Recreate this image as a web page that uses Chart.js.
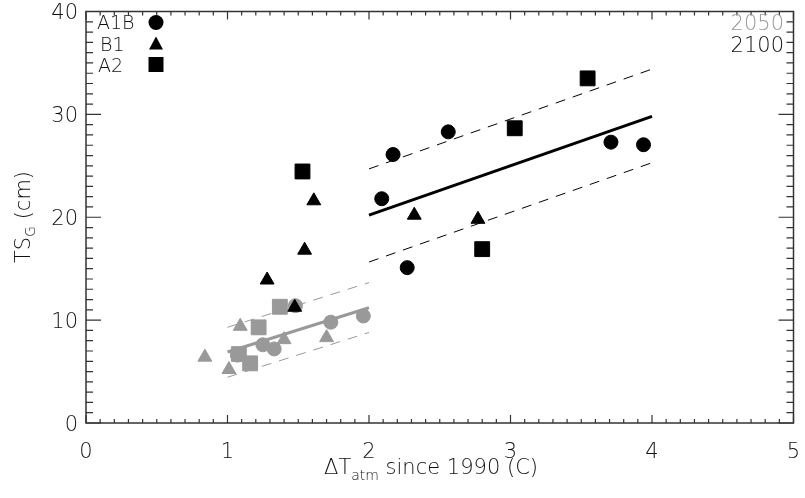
<!DOCTYPE html>
<html>
<head>
<meta charset="utf-8">
<script src="https://cdn.jsdelivr.net/npm/chart.js@4/dist/chart.umd.min.js"></script>
<style>
  html, body { margin: 0; padding: 0; background: #fff; }
  canvas { display: block; }
</style>
</head>
<body>
<canvas id="scatter-chart" width="805" height="498"></canvas>
<script>
// values: x = warming since 1990 (C), y = TS_G (cm)
// 2050 (gray)
const a1b2050X = [1.07, 1.25, 1.33, 1.48, 1.73, 1.96];
const a1b2050Y = [6.6, 7.6, 7.2, 11.4, 9.8, 10.4];
const b12050X = [0.84, 1.01, 1.09, 1.40, 1.70];
const b12050Y = [6.4, 5.2, 9.4, 8.1, 8.3];
const a22050X = [1.08, 1.16, 1.22, 1.37];
const a22050Y = [6.7, 5.8, 9.3, 11.3];
// 2100 (black)
const a1b2100X = [2.09, 2.17, 2.27, 2.56, 3.71, 3.94];
const a1b2100Y = [21.8, 26.1, 15.1, 28.3, 27.3, 27.05];
const b12100X = [1.28, 1.475, 1.545, 1.61, 2.32, 2.77];
const b12100Y = [13.9, 11.25, 16.8, 21.6, 20.2, 19.8];
const a22100X = [1.53, 2.80, 3.03, 3.545];
const a22100Y = [24.45, 16.9, 28.65, 33.5];
// fit lines (end points) and their dashed bands
const fit2050X = [1, 2];
const fit2050Y = [6.9, 11.2];
const hi2050Y = [9.3, 13.65];
const lo2050Y = [4.45, 8.8];
const fit2100X = [2, 4];
const fit2100Y = [20.2, 29.8];
const hi2100Y = [24.7, 34.4];
const lo2100Y = [15.65, 25.3];
// axes
const xTicks = [0, 1, 2, 3, 4, 5];
const yTicks = [0, 10, 20, 30, 40];

const GRAY = '#999999';
const BLACK = '#000000';
const FONT = "'DejaVu Sans', sans-serif";

function pts(xs, ys) {
	return xs.map((x, i) => ({ x: x, y: ys[i] }));
}

function pointSet(xs, ys, style, color, radius, order) {
	return {
		type: 'scatter',
		data: pts(xs, ys),
		pointStyle: style,
		pointRadius: radius,
		backgroundColor: color,
		borderColor: color,
		borderWidth: 1,
		order: order
	};
}

function lineSet(xs, ys, color, width, dash) {
	return {
		type: 'line',
		data: pts(xs, ys),
		borderColor: color,
		borderWidth: width,
		borderDash: dash,
		pointRadius: 0,
		fill: false,
		order: 5
	};
}

// box, inward ticks, tick labels, titles with subscripts, legend text
const frame = {
	id: 'frame',
	afterDraw(chart) {
		const ctx = chart.ctx;
		const a = chart.chartArea;
		const xs = chart.scales.x;
		const ys = chart.scales.y;
		ctx.save();
		ctx.strokeStyle = '#333';
		ctx.lineWidth = 1.5;
		ctx.strokeRect(a.left, a.top, a.right - a.left, a.bottom - a.top);
		ctx.lineWidth = 1.2;
		ctx.beginPath();
		for (let i = 0; i <= 50; i++) {
			const px = xs.getPixelForValue(i / 10);
			const len = i % 10 === 0 ? 8 : 4;
			ctx.moveTo(px, a.bottom); ctx.lineTo(px, a.bottom - len);
			ctx.moveTo(px, a.top); ctx.lineTo(px, a.top + len);
		}
		for (let i = 0; i <= 40; i++) {
			const py = ys.getPixelForValue(i);
			const len = i % 10 === 0 ? 15 : 7;
			ctx.moveTo(a.left, py); ctx.lineTo(a.left + len, py);
			ctx.moveTo(a.right, py); ctx.lineTo(a.right - len, py);
		}
		ctx.stroke();

		const big = '200 21px ' + FONT, small = '200 14px ' + FONT;
		const leg = '200 19px ' + FONT;
		ctx.fillStyle = '#111';
		ctx.textBaseline = 'alphabetic';
		ctx.font = big;

		// tick labels
		ctx.textAlign = 'center';
		xTicks.forEach(v => ctx.fillText(String(v), xs.getPixelForValue(v), 458));
		ctx.textAlign = 'right';
		yTicks.forEach(v => ctx.fillText(String(v), 78, ys.getPixelForValue(v) + 7.5));

		// x title: ΔT_atm since 1990 (C)
		const w1 = ctx.measureText('\u0394T').width;
		const w3 = ctx.measureText(' since 1990 (C)').width;
		ctx.font = small;
		const w2 = ctx.measureText('atm').width;
		let x0 = 431 - (w1 + w2 + w3) / 2;
		const by = 474;
		ctx.textAlign = 'left';
		ctx.font = big; ctx.fillText('\u0394T', x0, by);
		ctx.font = small; ctx.fillText('atm', x0 + w1, by + 6);
		ctx.font = big; ctx.fillText(' since 1990 (C)', x0 + w1 + w2, by);

		// y title: TS_G (cm)
		ctx.save();
		ctx.translate(30, 217);
		ctx.rotate(-Math.PI / 2);
		ctx.font = big;
		const v1 = ctx.measureText('TS').width;
		const v3 = ctx.measureText(' (cm)').width;
		ctx.font = small;
		const v2 = ctx.measureText('G').width;
		let y0 = -(v1 + v2 + v3) / 2;
		ctx.font = big; ctx.fillText('TS', y0, 0);
		ctx.font = small; ctx.fillText('G', y0 + v1, 5);
		ctx.font = big; ctx.fillText(' (cm)', y0 + v1 + v2, 0);
		ctx.restore();

		// scenario legend
		ctx.font = leg;
		ctx.textAlign = 'left';
		ctx.fillText('A1B', 97, 29);
		ctx.fillText('B1', 100, 51);
		ctx.fillText('A2', 98, 72);
		ctx.fillStyle = BLACK;
		ctx.beginPath();
		ctx.arc(156, 22.5, 7.5, 0, Math.PI * 2);
		ctx.fill();
		ctx.beginPath();
		ctx.moveTo(156, 36.5); ctx.lineTo(163, 49.5); ctx.lineTo(149, 49.5);
		ctx.closePath();
		ctx.fill();
		ctx.fillRect(148.5, 57, 15, 15);

		// year legend
		ctx.font = big;
		ctx.textAlign = 'right';
		ctx.fillStyle = GRAY;
		ctx.fillText('2050', 784, 30);
		ctx.fillStyle = '#111';
		ctx.fillText('2100', 784, 52);
		ctx.restore();
	}
};

new Chart(document.getElementById('scatter-chart'), {
	type: 'scatter',
	data: {
		datasets: [
			pointSet(a1b2100X, a1b2100Y, 'circle', BLACK, 7, 0),
			pointSet(b12100X, b12100Y, 'triangle', BLACK, 8, 0),
			pointSet(a22100X, a22100Y, 'rect', BLACK, 10.5, 0),
			pointSet(a1b2050X, a1b2050Y, 'circle', GRAY, 7, 1),
			pointSet(b12050X, b12050Y, 'triangle', GRAY, 8, 1),
			pointSet(a22050X, a22050Y, 'rect', GRAY, 10.5, 1),
			lineSet(fit2050X, fit2050Y, GRAY, 3, []),
			lineSet(fit2050X, hi2050Y, GRAY, 1, [10, 8]),
			lineSet(fit2050X, lo2050Y, GRAY, 1, [10, 8]),
			lineSet(fit2100X, fit2100Y, BLACK, 3, []),
			lineSet(fit2100X, hi2100Y, BLACK, 1, [10, 8]),
			lineSet(fit2100X, lo2100Y, BLACK, 1, [10, 8])
		]
	},
	options: {
		responsive: false,
		animation: false,
		devicePixelRatio: 1,
		layout: { padding: { top: 10, right: 6, left: 0, bottom: 0 } },
		plugins: {
			legend: { display: false },
			tooltip: { enabled: false }
		},
		scales: {
			x: {
				type: 'linear',
				min: 0,
				max: 5,
				afterFit: s => { s.height = 75; },
				grid: { display: false },
				border: { display: false },
				ticks: { display: false }
			},
			y: {
				type: 'linear',
				min: 0,
				max: 40,
				afterFit: s => { s.width = 86; },
				grid: { display: false },
				border: { display: false },
				ticks: { display: false }
			}
		}
	},
	plugins: [frame]
});
</script>
</body>
</html>
